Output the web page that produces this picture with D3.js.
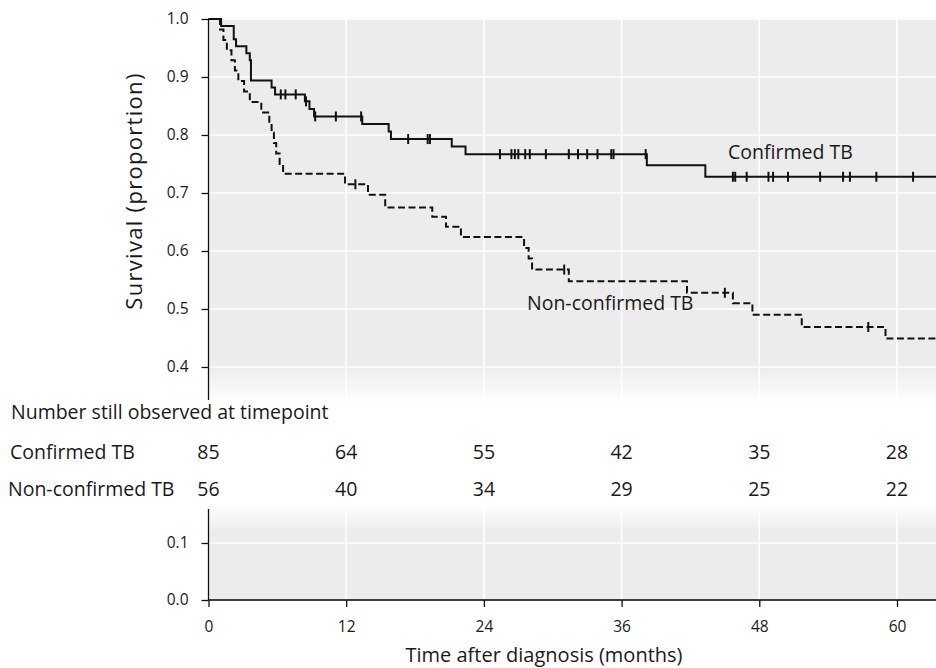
<!DOCTYPE html>
<html>
<head>
<meta charset="utf-8">
<script src="https://cdn.jsdelivr.net/npm/d3@7"></script>
<style>
  body { margin: 0; background: #fff; }
  text { font-family: "Open Sans", sans-serif; fill: #1a1a1a; }
</style>
</head>
<body>
<div id="chart"></div>
<script>
// Data
var maxMonth = 63.4;
var xTicks = [0, 12, 24, 36, 48, 60];
var yTicksTop = [0.4, 0.5, 0.6, 0.7, 0.8, 0.9, 1.0];
var yTicksBottom = [0.0, 0.1];

// confirmed TB: step times (months) and survival after each step
var confTimes = [1.1, 2.2, 2.4, 3.3, 3.6, 3.7, 5.5, 5.8, 8.4, 8.8, 9.2, 13.4, 15.7, 15.9, 21.2, 22.4, 38.2, 43.3];
var confSurv  = [0.988, 0.965, 0.953, 0.941, 0.929, 0.894, 0.882, 0.870, 0.858, 0.845, 0.832, 0.819, 0.806, 0.793, 0.780, 0.767, 0.748, 0.728];
var confCensor = [6.3, 6.7, 7.6, 8.5, 9.3, 11.1, 13.3, 17.4, 19.1, 19.3, 25.4, 26.4, 26.7, 27.0, 27.6, 28.0, 29.4,
  31.4, 32.2, 33.0, 33.9, 35.1, 35.3, 38.1, 45.7, 45.9, 46.9, 48.8, 49.2, 50.5, 53.3, 55.3, 55.9, 58.2, 61.4];

// non-confirmed TB
var nonTimes = [1.0, 1.3, 1.6, 2.0, 2.3, 2.6, 3.1, 3.6, 4.6, 5.3, 5.5, 5.7, 5.9, 6.2, 6.5, 11.9, 13.9, 15.4, 19.5,
  20.7, 22.0, 27.5, 27.9, 28.2, 31.4, 41.7, 45.7, 47.4, 51.7, 59.0];
var nonSurv = [0.982, 0.964, 0.946, 0.929, 0.911, 0.893, 0.875, 0.857, 0.839, 0.821, 0.804, 0.786, 0.768, 0.750, 0.733,
  0.715, 0.697, 0.675, 0.659, 0.642, 0.624, 0.605, 0.587, 0.568, 0.548, 0.528, 0.510, 0.490, 0.469, 0.449];
var nonCensor = [12.8, 31.0, 45.0, 57.5];

// number at risk table
var riskLabels = ["Confirmed TB", "Non-confirmed TB"];
var riskConf = [85, 64, 55, 42, 35, 28];
var riskNon = [56, 40, 34, 29, 25, 22];

var svgWidth = 936, svgHeight = 668;
var svg = d3.select("#chart").append("svg")
  .attr("width", svgWidth)
  .attr("height", svgHeight);

var x = d3.scaleLinear().domain([0, maxMonth]).range([208.5, 936]);
var yTop = d3.scaleLinear().domain([0.4, 1.0]).range([367, 19]);
var yBot = d3.scaleLinear().domain([0.0, 0.1]).range([600, 543]);

var topBottom = 403, botTop = 505;
var gray = "#ececec";

// gradients for the broken axis fade
var defs = svg.append("defs");
var g1 = defs.append("linearGradient").attr("id", "fadeDown").attr("x1", 0).attr("y1", 0).attr("x2", 0).attr("y2", 1);
g1.append("stop").attr("offset", "0%").attr("stop-color", "#fff").attr("stop-opacity", 0);
g1.append("stop").attr("offset", "100%").attr("stop-color", "#fff").attr("stop-opacity", 1);
var g2 = defs.append("linearGradient").attr("id", "fadeUp").attr("x1", 0).attr("y1", 0).attr("x2", 0).attr("y2", 1);
g2.append("stop").attr("offset", "0%").attr("stop-color", "#fff").attr("stop-opacity", 1);
g2.append("stop").attr("offset", "100%").attr("stop-color", "#fff").attr("stop-opacity", 0);

// backgrounds
svg.append("rect").attr("x", x(0)).attr("y", yTop(1)).attr("width", x(maxMonth) - x(0))
  .attr("height", topBottom - yTop(1)).attr("fill", gray);
svg.append("rect").attr("x", x(0)).attr("y", botTop).attr("width", x(maxMonth) - x(0))
  .attr("height", yBot(0) - botTop).attr("fill", gray);

// grid lines
var grid = svg.append("g").attr("stroke", "#fff").attr("stroke-width", 1.6);
grid.selectAll(".hTop").data(yTicksTop).enter().append("line")
  .attr("x1", x(0)).attr("x2", x(maxMonth))
  .attr("y1", d => yTop(d)).attr("y2", d => yTop(d));
grid.selectAll(".hBot").data(yTicksBottom).enter().append("line")
  .attr("x1", x(0)).attr("x2", x(maxMonth))
  .attr("y1", d => yBot(d)).attr("y2", d => yBot(d));
grid.selectAll(".vTop").data(xTicks.slice(1)).enter().append("line")
  .attr("x1", d => x(d)).attr("x2", d => x(d))
  .attr("y1", yTop(1)).attr("y2", topBottom);
grid.selectAll(".vBot").data(xTicks.slice(1)).enter().append("line")
  .attr("x1", d => x(d)).attr("x2", d => x(d))
  .attr("y1", botTop).attr("y2", yBot(0));

// fade overlays
svg.append("rect").attr("x", x(0)).attr("y", 366).attr("width", x(maxMonth) - x(0))
  .attr("height", topBottom - 366 + 1).attr("fill", "url(#fadeDown)");
svg.append("rect").attr("x", x(0)).attr("y", botTop - 1).attr("width", x(maxMonth) - x(0))
  .attr("height", 28).attr("fill", "url(#fadeUp)");

// curves
function stepPoints(times, surv) {
  var pts = [[0, 1]];
  times.forEach(function(t, i) { pts.push([t, surv[i]]); });
  pts.push([maxMonth, surv[surv.length - 1]]);
  return pts;
}
function survAt(times, surv, t) {
  var s = 1;
  times.forEach(function(tt, i) { if (tt <= t) s = surv[i]; });
  return s;
}
var line = d3.line().x(d => x(d[0])).y(d => yTop(d[1])).curve(d3.curveStepAfter);

svg.append("path").datum(stepPoints(nonTimes, nonSurv))
  .attr("d", line).attr("fill", "none").attr("stroke", "#111")
  .attr("stroke-width", 2).attr("stroke-dasharray", "7,3.5");
svg.append("path").datum(stepPoints(confTimes, confSurv))
  .attr("d", line).attr("fill", "none").attr("stroke", "#111").attr("stroke-width", 2);

svg.selectAll(".cc").data(confCensor).enter().append("line")
  .attr("x1", d => x(d)).attr("x2", d => x(d))
  .attr("y1", d => yTop(survAt(confTimes, confSurv, d)) - 5)
  .attr("y2", d => yTop(survAt(confTimes, confSurv, d)) + 5)
  .attr("stroke", "#111").attr("stroke-width", 2);
svg.selectAll(".nc").data(nonCensor).enter().append("line")
  .attr("x1", d => x(d)).attr("x2", d => x(d))
  .attr("y1", d => yTop(survAt(nonTimes, nonSurv, d)) - 5)
  .attr("y2", d => yTop(survAt(nonTimes, nonSurv, d)) + 5)
  .attr("stroke", "#111").attr("stroke-width", 2);

// curve labels
svg.append("text").attr("x", 728).attr("y", 159).attr("font-size", "19.5px").text("Confirmed TB");
svg.append("text").attr("x", 527).attr("y", 310).attr("font-size", "19.5px").text("Non-confirmed TB");

// axes
var axisTop = svg.append("g").attr("transform", `translate(${x(0)},0)`)
  .call(d3.axisLeft(yTop).tickValues(yTicksTop).tickFormat(d3.format(".1f")).tickSize(7).tickPadding(13));
axisTop.select(".domain").remove();
axisTop.append("line").attr("x1", 0).attr("x2", 0).attr("y1", yTop(1)).attr("y2", 400)
  .attr("stroke", "#111").attr("stroke-width", 1.3);

var axisBot = svg.append("g").attr("transform", `translate(${x(0)},0)`)
  .call(d3.axisLeft(yBot).tickValues(yTicksBottom).tickFormat(d3.format(".1f")).tickSize(7).tickPadding(13));
axisBot.select(".domain").remove();
axisBot.append("line").attr("x1", 0).attr("x2", 0).attr("y1", 509).attr("y2", yBot(0))
  .attr("stroke", "#111").attr("stroke-width", 1.3);

var axisX = svg.append("g").attr("transform", `translate(0,${yBot(0)})`)
  .call(d3.axisBottom(x).tickValues(xTicks).tickSize(7).tickPadding(14));
axisX.select(".domain").attr("stroke-width", 1.3).attr("d", `M${x(0)},0H${x(maxMonth)}`);

svg.selectAll(".tick text").attr("font-size", "15.5px").attr("fill", "#1a1a1a")
  .attr("font-family", "'Open Sans', sans-serif");
svg.selectAll(".tick line").attr("stroke", "#111").attr("stroke-width", 1.3);

// axis labels
svg.append("text").attr("transform", "translate(142,191) rotate(-90)")
  .attr("text-anchor", "middle").attr("font-size", "22px").attr("letter-spacing", "1.3px")
  .text("Survival  (proportion)");
svg.append("text").attr("x", 544).attr("y", 662)
  .attr("text-anchor", "middle").attr("font-size", "20px").text("Time after diagnosis  (months)");

// number at risk table
svg.append("text").attr("x", 11).attr("y", 419).attr("font-size", "19.5px").text("Number still observed at timepoint");
svg.append("text").attr("x", 10).attr("y", 459).attr("font-size", "19.5px").text(riskLabels[0]);
svg.append("text").attr("x", 8).attr("y", 496).attr("font-size", "19.5px").text(riskLabels[1]);

svg.selectAll(".rc").data(riskConf).enter().append("text")
  .attr("x", (d, i) => x(xTicks[i]))
  .attr("y", 459).attr("text-anchor", "middle").attr("font-size", "19.5px").text(d => d);
svg.selectAll(".rn").data(riskNon).enter().append("text")
  .attr("x", (d, i) => x(xTicks[i]))
  .attr("y", 496).attr("text-anchor", "middle").attr("font-size", "19.5px").text(d => d);
</script>
</body>
</html>
